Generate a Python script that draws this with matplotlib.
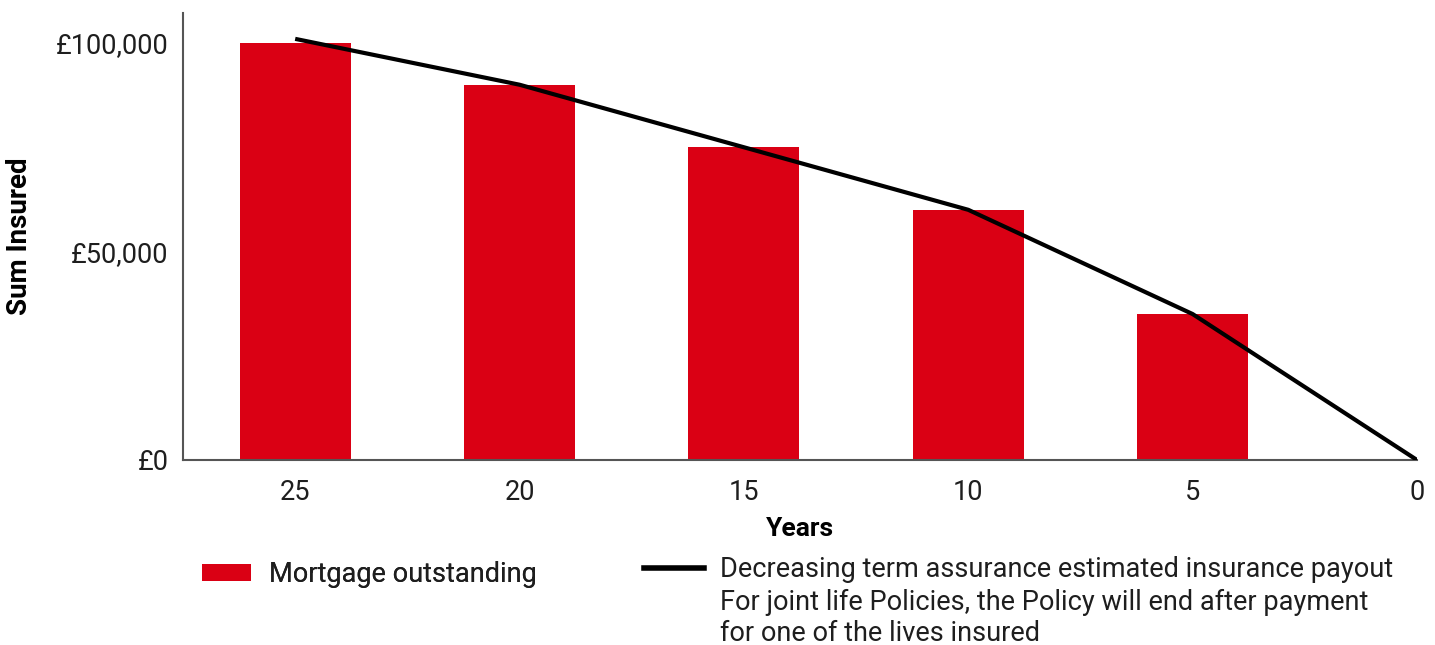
import matplotlib
matplotlib.use("Agg")
import matplotlib.pyplot as plt
from matplotlib.patches import Patch
from matplotlib.lines import Line2D
from matplotlib.ticker import FuncFormatter

plt.rcParams['font.family'] = ['Roboto', 'DejaVu Sans']

# Data
years = ["25", "20", "15", "10", "5", "0"]
mortgage_outstanding = [100000, 90000, 75000, 60000, 35000]
payout = [101000, 90000, 75000, 60000, 35000, 0]
y_ticks = [0, 50000, 100000]
legend_bar = "Mortgage outstanding"
legend_line = ["Decreasing term assurance estimated insurance payout",
               "For joint life Policies, the Policy will end after payment",
               "for one of the lives insured"]

RED = '#DA0014'
SPINE = '#555555'
TXT = '#1e1e1e'
FS = 19.5

fig = plt.figure(figsize=(14.35, 6.45), dpi=100)
ax = fig.add_axes([183/1435, 1-460/645, (1417-183)/1435, (460-13)/645])

xpos = list(range(len(years)))
ax.bar(xpos[:len(mortgage_outstanding)], mortgage_outstanding, width=0.495,
       color=RED, zorder=2)
ax.plot(xpos, payout, color='black', lw=3, zorder=3, solid_capstyle='butt')

ax.set_xlim(-0.5, len(years) - 1)
ax.set_ylim(0, 107200)
ax.set_xticks(xpos)
ax.set_xticklabels(years)
ax.set_yticks(y_ticks)
ax.yaxis.set_major_formatter(FuncFormatter(lambda v, p: "£{:,.0f}".format(v)))

for side in ['top', 'right']:
    ax.spines[side].set_visible(False)
for side in ['left', 'bottom']:
    ax.spines[side].set_color(SPINE)
    ax.spines[side].set_linewidth(1.5)

ax.tick_params(axis='both', length=0, labelsize=FS, labelcolor=TXT)
ax.tick_params(axis='y', pad=10.5)
ax.tick_params(axis='x', pad=14)

ax.set_xlabel("Years", fontsize=19, fontweight='bold', labelpad=7.5, color='black')
ax.set_ylabel("Sum Insured", fontsize=20, fontweight='bold', color='black')
ax.yaxis.set_label_coords((33-183)/1234, 0.5)

leg1 = fig.legend(handles=[Patch(facecolor=RED, edgecolor='none')],
                  labels=[legend_bar],
                  loc='upper left', bbox_to_anchor=(202/1435, 1-561/645),
                  frameon=False, fontsize=FS, handlelength=1.8, handleheight=0.55,
                  handletextpad=0.67, borderpad=0, borderaxespad=0)
leg2 = fig.legend(handles=[Line2D([0], [0], color='black', lw=4)],
                  labels=[legend_line[0]],
                  loc='upper left', bbox_to_anchor=(644/1435, 1-556/645),
                  frameon=False, fontsize=FS, handlelength=2.2,
                  handletextpad=0.6, borderpad=0, borderaxespad=0)
for leg in (leg1, leg2):
    for t in leg.get_texts():
        t.set_color(TXT)
fig.add_artist(leg1)

fig.canvas.draw()
tb = leg2.get_texts()[0].get_window_extent()
x0 = tb.x0 / fig.bbox.width
ytop = tb.y0 / fig.bbox.height
fig.text(x0, ytop - 6/645, "\n".join(legend_line[1:]), fontsize=FS, color=TXT,
         ha='left', va='top', linespacing=1.2)

fig.savefig("out.png", dpi=100)
